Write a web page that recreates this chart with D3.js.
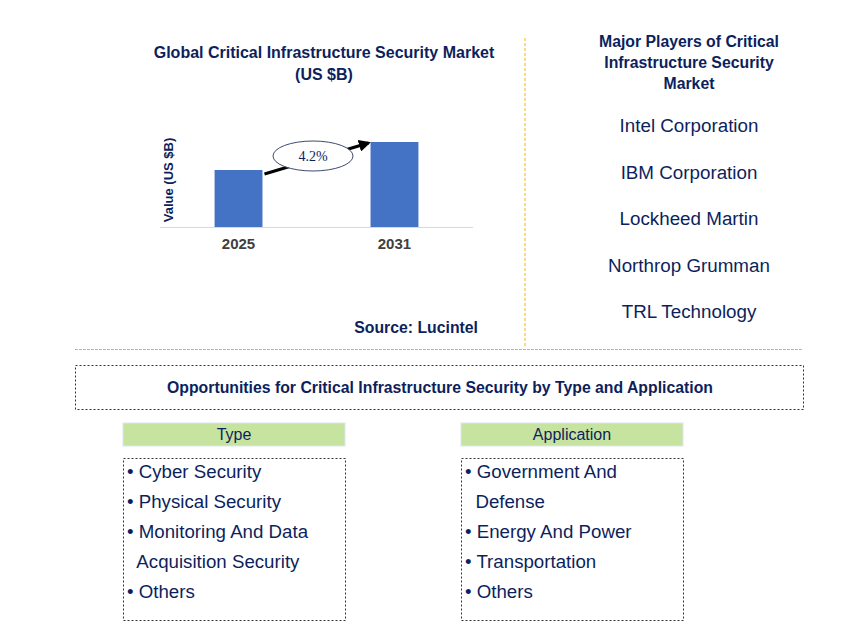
<!DOCTYPE html>
<html><head><meta charset="utf-8">
<script src="https://cdn.jsdelivr.net/npm/d3@7/dist/d3.min.js"></script>
<style>body{margin:0;background:#fff}</style></head>
<body><svg id="c" width="868" height="642"></svg>
<script>
const years = ["2025","2031"];
const values = [5.7, 8.5];
const cagr = "4.2%";
const players = ["Intel Corporation","IBM Corporation","Lockheed Martin","Northrop Grumman","TRL Technology"];
const typeItems = [["• Cyber Security"],["• Physical Security"],["• Monitoring And Data","  Acquisition Security"],["• Others"]];
const appItems = [["• Government And","  Defense"],["• Energy And Power"],["• Transportation"],["• Others"]];

const svg = d3.select("#c");
const navy = "#0d1f5c", F = "Arial, 'Liberation Sans', sans-serif";
function txt(x,y,s,size,opt={}){return svg.append("text").attr("x",x).attr("y",y).text(s)
  .attr("font-family",F).attr("font-size",size).attr("fill",opt.fill||navy)
  .attr("font-weight",opt.bold?"bold":"normal").attr("text-anchor",opt.anchor||"middle").style("white-space","pre");}

txt(324,58,"Global Critical Infrastructure Security Market",16,{bold:true});
txt(324,80,"(US $B)",16,{bold:true});

const x = d3.scaleBand().domain(years).range([160,473]).paddingInner(0.693).paddingOuter(0.35);
const y = d3.scaleLinear().domain([0,8.5]).range([227,142]);
svg.selectAll("rect.bar").data(values).join("rect").attr("class","bar")
  .attr("x",(d,i)=>x(years[i])).attr("width",x.bandwidth()).attr("y",d=>y(d)).attr("height",d=>227-y(d)).attr("fill","#4472c4");
svg.append("line").attr("x1",160).attr("x2",473).attr("y1",227.5).attr("y2",227.5).attr("stroke","#d9d9d9");
years.forEach(yr=>txt(x(yr)+x.bandwidth()/2,249,yr,15,{bold:true,fill:"#404040"}));
svg.append("text").attr("transform","translate(173,180) rotate(-90)").attr("text-anchor","middle")
  .attr("font-family",F).attr("font-size",13).attr("font-weight","bold").attr("fill",navy).text("Value (US $B)");
svg.append("defs").append("marker").attr("id","ah").attr("viewBox","0 0 10 10").attr("refX",8).attr("refY",5)
  .attr("markerWidth",4).attr("markerHeight",4).attr("orient","auto").append("path").attr("d","M0,0L10,5L0,10z").attr("fill","#000");
svg.append("line").attr("x1",x("2025")+x.bandwidth()+2).attr("y1",y(values[0])+4).attr("x2",x("2031")-2).attr("y2",y(values[1])+1)
  .attr("stroke","#000").attr("stroke-width",3).attr("marker-end","url(#ah)");
svg.append("ellipse").attr("cx",313).attr("cy",156).attr("rx",40).attr("ry",15).attr("fill","#fff").attr("stroke","#404a70");
svg.append("text").attr("x",313).attr("y",161).attr("text-anchor","middle").attr("font-family","'Liberation Serif',serif")
  .attr("font-size",14).attr("fill",navy).text(cagr);
txt(478,333,"Source: Lucintel",15.8,{bold:true,anchor:"end"});

svg.append("line").attr("x1",525).attr("x2",525).attr("y1",38).attr("y2",348).attr("stroke","#f2b800").attr("stroke-dasharray","3,2");
svg.append("line").attr("x1",75).attr("x2",802).attr("y1",349.5).attr("y2",349.5).attr("stroke","#f2b800").attr("stroke-dasharray","3,1");

["Major Players of Critical","Infrastructure Security","Market"].forEach((s,i)=>txt(689,47+i*21,s,15.8,{bold:true}));
players.forEach((p,i)=>txt(689,132+i*46.5,p,18.8));

svg.append("rect").attr("x",75.5).attr("y",365.5).attr("width",728).attr("height",44).attr("fill","none").attr("stroke","#333").attr("stroke-dasharray","2,2");
txt(440,393,"Opportunities for Critical Infrastructure Security by Type and Application",15.8,{bold:true});

function panel(x0,title,items){
  svg.append("rect").attr("x",x0).attr("y",423).attr("width",222).attr("height",23).attr("fill","#c6e3a0").attr("stroke","#dbe6f4");
  txt(x0+111,440,title,16,{});
  svg.append("rect").attr("x",x0+0.5).attr("y",458.5).attr("width",222).attr("height",162).attr("fill","none").attr("stroke","#333").attr("stroke-dasharray","2,2");
  let line=0;
  items.forEach(it=>it.forEach(s=>{txt(x0+4,478+line*30,s,18.7,{anchor:"start"});line++;}));
}
panel(123,"Type",typeItems);
panel(461,"Application",appItems);
</script></body></html>
